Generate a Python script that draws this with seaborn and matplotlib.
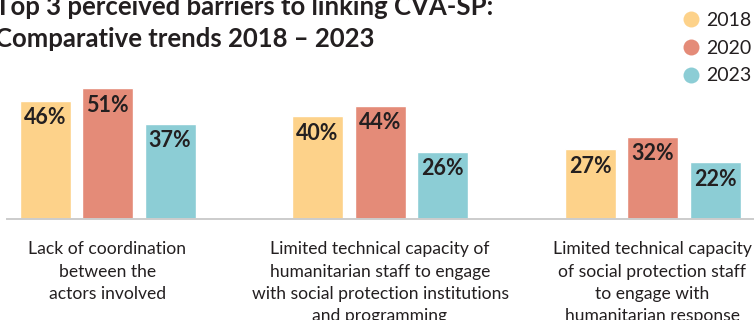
import matplotlib
matplotlib.use("Agg")
import matplotlib.pyplot as plt
import seaborn as sns
import pandas as pd
from matplotlib.lines import Line2D

categories = [
    "Lack of coordination\nbetween the\nactors involved",
    "Limited technical capacity of\nhumanitarian staff to engage\nwith social protection institutions\nand programming",
    "Limited technical capacity\nof social protection staff\nto engage with\nhumanitarian response",
]
years = ["2018", "2020", "2023"]
values_2018 = [46, 40, 27]
values_2020 = [51, 44, 32]
values_2023 = [37, 26, 22]
colors = ["#FDD28A", "#E48B78", "#8CCDD5"]
title_lines = ["Top 3 perceived barriers to linking CVA-SP:", "Comparative trends 2018 \u2013 2023"]

df = pd.DataFrame({
    "category": categories * 3,
    "year": [y for y in years for _ in categories],
    "value": values_2018 + values_2020 + values_2023,
})

sns.set_theme(style="white")
plt.rcParams["font.family"] = ["Lato", "DejaVu Sans"]
TXT = "#231F20"

W, H = 754, 320
fig = plt.figure(figsize=(W / 100, H / 100), dpi=100)
ax_left = 6.7 / W
ax_bottom = (H - 218.5) / H
ax_top = (H - 60) / H
ax = fig.add_axes([ax_left, ax_bottom, 1 - ax_left, ax_top - ax_bottom])

px_per_unit = 272.5
sns.barplot(data=df, x="category", y="value", hue="year", palette=colors,
            width=3 * 62.5 / px_per_unit, gap=1 - 51 / 62.5, ax=ax,
            legend=False, saturation=1, errorbar=None)

ax.set_xlim((6.7 - 107.5) / px_per_unit, (W - 107.5) / px_per_unit)
ax.set_ylim(0, 158 / 2.549)
for s in ["top", "right", "left"]:
    ax.spines[s].set_visible(False)
ax.spines["bottom"].set_color("#CCCCCC")
ax.spines["bottom"].set_linewidth(1.4)
ax.set_yticks([])
ax.set_xlabel("")
ax.set_ylabel("")
ax.tick_params(axis="x", length=0, pad=16.5)
for lab in ax.get_xticklabels():
    lab.set_fontsize(12.6)
    lab.set_color(TXT)
    lab.set_fontweight("normal")
    lab.set_linespacing(1.47)

for cont in ax.containers:
    for bar in cont:
        h = bar.get_height()
        ax.annotate(f"{h:.0f}%", (bar.get_x() + bar.get_width() / 2, h),
                    xytext=(0, -12.2), textcoords="offset points",
                    ha="center", va="center", fontsize=15.5,
                    fontweight="bold", color=TXT)

handles = [Line2D([], [], marker="o", linestyle="none", markersize=11.5,
                  markerfacecolor=c, markeredgecolor="none") for c in colors]
fig.legend(handles, years, loc="upper left", bbox_to_anchor=(681 / W, 1 - 12 / H),
           frameon=False, fontsize=14, handletextpad=0.3, labelspacing=0.55,
           borderaxespad=0, borderpad=0, handlelength=1.0, labelcolor=TXT)

fig.text(-5 / W, 1 - 15 / H, title_lines[0], fontsize=18.5, fontweight="bold",
         color=TXT, ha="left", va="baseline")
fig.text(-5 / W, 1 - 46.7 / H, title_lines[1], fontsize=18.5, fontweight="bold",
         color=TXT, ha="left", va="baseline")

fig.savefig("out.png", dpi=100)
